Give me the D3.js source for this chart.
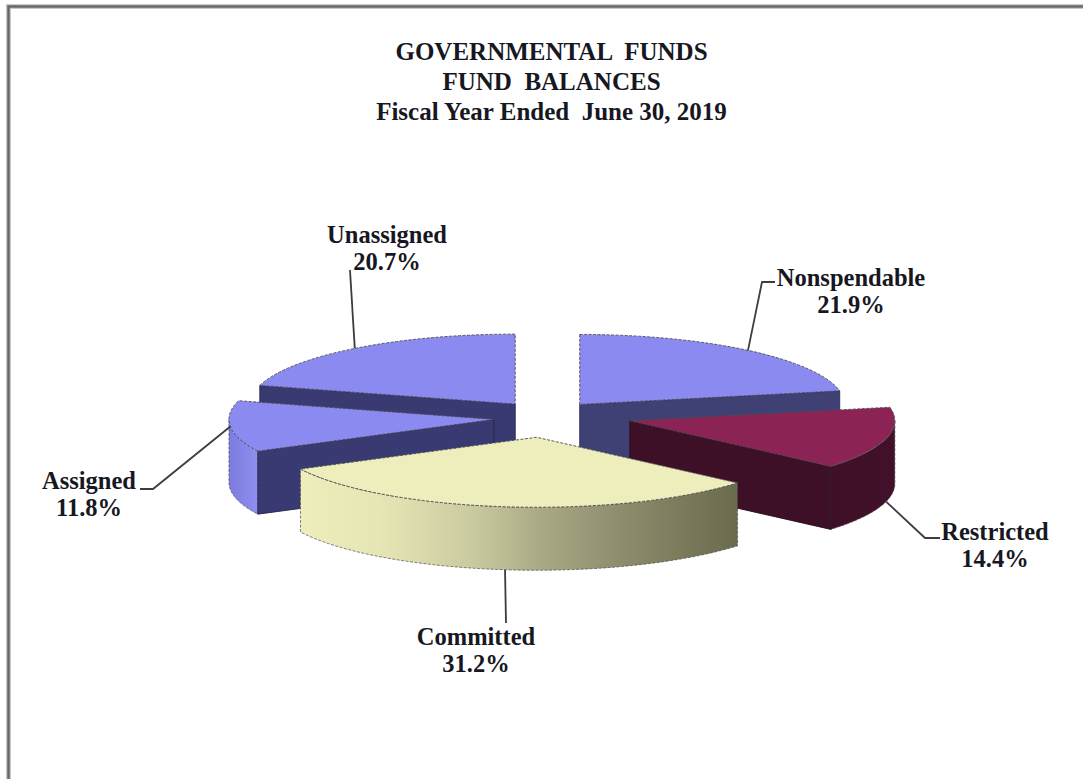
<!DOCTYPE html>
<html>
<head>
<meta charset="utf-8">
<title>Governmental Funds Fund Balances</title>
<script src="https://cdnjs.cloudflare.com/ajax/libs/d3/7.8.5/d3.min.js"></script>
<style>
  html, body { margin: 0; padding: 0; background: #fff; overflow: hidden; }
  svg { display: block; }
  text { font-family: "Liberation Serif", serif; font-weight: bold; fill: #17171f; white-space: pre; }
</style>
</head>
<body>
<svg id="chart" width="1083" height="779"></svg>
<script>
// Fund balance shares, clockwise from twelve o'clock
const categories = ["Nonspendable", "Restricted", "Committed", "Assigned", "Unassigned"];
const percents = [21.9, 14.4, 31.2, 11.8, 20.7];
const titleLines = ["GOVERNMENTAL  FUNDS", "FUND  BALANCES", "Fiscal Year Ended  June 30, 2019"];

// Pull-out distance of each wedge and the order they are painted in
const explode = [52, 86, 85, 53, 52];
const nudgeY = [0, 0, 0, 3, 0];
const paintOrder = ["Unassigned", "Nonspendable", "Assigned", "Restricted", "Committed"];

// Colours per wedge: lid, cut face, rim
const lidColors = ["#8a8af0", "#8b2355", "#eeeebc", "#8a8af0", "#8a8af0"];
const faceColors = ["#3f4074", "#3e1027", "#6a6a4a", "#3a3a72", "#3a3a72"];
const faceEdges = ["#2c2c5c", "#2a0a1a", "#55553a", "#24244f", "#24244f"];
const rimStops = [
  [["0%", "#8a8af0"], ["100%", "#8a8af0"]],
  [["0%", "#3e1027"], ["100%", "#421129"]],
  [["0%", "#eeeebc"], ["18%", "#e6e6b5"], ["40%", "#c9c99f"], ["55%", "#a9a985"], ["78%", "#878768"], ["100%", "#6a6a4c"]],
  [["0%", "#7c7ce0"], ["100%", "#8f8ff0"]],
  [["0%", "#8a8af0"], ["100%", "#8a8af0"]]
];

// Label placement and leader routes; the first leader point comes from the wedge itself
const labelX = [851, 995, 476, 89, 387];
const labelY = [286, 540, 645, 489, 243];
const leaderBends = [
  [[762, 282], [775, 282]],
  [[925, 538], [940, 538]],
  [[506, 623]],
  [[153, 489], [140, 489]],
  [[350, 270]]
];
const leaderOnRim = [false, true, true, false, false];

const width = 1083, height = 779;
const cx = 546.7, cy = 415;
const radius = 265, tilt = 0.264, depth = 63;

const svg = d3.select("#chart");
const defs = svg.append("defs");

// Frame around the page, running off the right and bottom edges
[["#c9c9c9", 5], ["#666", 2.4]].forEach(([color, weight]) => {
  svg.append("rect")
    .attr("x", 8.5).attr("y", 6.5).attr("width", width + 20).attr("height", height + 20)
    .attr("fill", "none").attr("stroke", color).attr("stroke-width", weight);
});

// Title block
svg.append("g").selectAll("text").data(titleLines).join("text")
  .attr("x", 551.5)
  .attr("y", (d, i) => [60, 90, 120][i])
  .attr("text-anchor", "middle")
  .attr("font-size", 25)
  .text(d => d);

// Wedge angles come straight from the percentages
const pie = d3.pie().sort(null).value(d => d.value);
const wedges = pie(categories.map((name, i) => ({ name, value: percents[i], index: i })));

const lidArc = d3.arc().innerRadius(0).outerRadius(radius);
const onEllipse = (a, r = radius) => [r * Math.sin(a), -r * Math.cos(a) * tilt];

function apexOf(w) {
  const i = w.data.index;
  const mid = (w.startAngle + w.endAngle) / 2;
  const [dx, dy] = onEllipse(mid, explode[i]);
  return [cx + dx, cy + dy + nudgeY[i]];
}

// Closed band below an arc of the rim
function rimPath(a0, a1) {
  const angles = d3.range(0, 61).map(k => a0 + (a1 - a0) * k / 60);
  const top = angles.map(a => onEllipse(a));
  const bottom = top.map(([x, y]) => [x, y + depth]).reverse();
  return d3.line()(top.concat(bottom)) + "Z";
}

// Flat cut face running from the apex out to the rim at angle a
function facePath(a) {
  const [x, y] = onEllipse(a);
  return d3.line()([[0, 0], [x, y], [x, y + depth], [0, depth]]) + "Z";
}

const edge = "#4d4d52";
const chart = svg.append("g");

paintOrder.forEach(name => {
  const w = wedges.find(d => d.data.name === name);
  const i = w.data.index;
  const [ax, ay] = apexOf(w);
  const g = chart.append("g").attr("transform", `translate(${ax},${ay})`);

  // Rim, only the stretch on the near half of the ellipse
  const a0 = Math.max(w.startAngle, Math.PI / 2);
  const a1 = Math.min(w.endAngle, 3 * Math.PI / 2);
  if (a1 > a0) {
    const [x0] = onEllipse(a0);
    const [x1] = onEllipse(a1);
    const grad = defs.append("linearGradient")
      .attr("id", "rim" + i)
      .attr("gradientUnits", "userSpaceOnUse")
      .attr("x1", Math.min(x0, x1)).attr("x2", Math.max(x0, x1))
      .attr("y1", 0).attr("y2", 0);
    grad.selectAll("stop").data(rimStops[i]).join("stop")
      .attr("offset", d => d[0]).attr("stop-color", d => d[1]);
    g.append("path").attr("d", rimPath(a0, a1))
      .attr("fill", `url(#rim${i})`)
      .attr("stroke", edge).attr("stroke-width", 0.7).attr("stroke-dasharray", "3 1.5");
  }

  // Cut faces that turn towards the viewer
  [w.endAngle, w.startAngle].forEach((a, k) => {
    const faces = k === 0 ? Math.sin(a) > 1e-6 : Math.sin(a) < -1e-6;
    if (faces) {
      g.append("path").attr("d", facePath(a))
        .attr("fill", faceColors[i])
        .attr("stroke", faceEdges[i]).attr("stroke-width", 0.9);
    }
  });

  // Lid, flattened into an ellipse
  g.append("path")
    .attr("d", lidArc({ startAngle: w.startAngle, endAngle: w.endAngle }))
    .attr("transform", `scale(1,${tilt})`)
    .attr("fill", lidColors[i])
    .attr("stroke", edge).attr("stroke-width", 0.9)
    .attr("stroke-dasharray", "3 1.5")
    .attr("vector-effect", "non-scaling-stroke");
});

// Leader lines from each wedge's middle angle to its label
const leaders = svg.append("g");
wedges.forEach(w => {
  const i = w.data.index;
  const [ax, ay] = apexOf(w);
  const [x, y] = onEllipse((w.startAngle + w.endAngle) / 2);
  const start = [ax + x, ay + y + (leaderOnRim[i] ? depth : 0)];
  leaders.append("path")
    .attr("d", d3.line()([start, ...leaderBends[i]]))
    .attr("fill", "none").attr("stroke", "#3c3c42").attr("stroke-width", 1.8);
});

// Category name and share
const labels = svg.append("g").selectAll("g").data(wedges).join("g");
labels.append("text")
  .attr("x", d => labelX[d.data.index])
  .attr("y", d => labelY[d.data.index])
  .attr("text-anchor", "middle").attr("font-size", 24.5)
  .text(d => d.data.name);
labels.append("text")
  .attr("x", d => labelX[d.data.index])
  .attr("y", d => labelY[d.data.index] + 26.5)
  .attr("text-anchor", "middle").attr("font-size", 24.5)
  .text(d => d.data.value.toFixed(1) + "%");
</script>
</body>
</html>
